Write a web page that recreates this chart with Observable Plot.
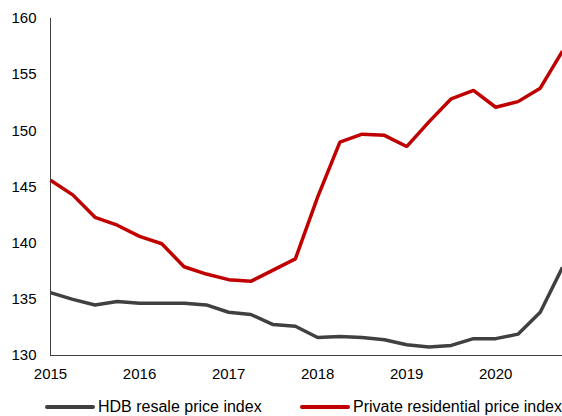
<!DOCTYPE html>
<html>
<head>
<meta charset="utf-8">
<script src="https://cdn.jsdelivr.net/npm/d3@7"></script>
<script src="https://cdn.jsdelivr.net/npm/@observablehq/plot@0.6"></script>
<style>
  body { margin: 0; background: #fff; font-family: "Liberation Sans", Arial, sans-serif; }
  #chart svg { display: block; }
  .legend { position: relative; height: 26px; width: 562px; font-size: 16px; color: #000; }
  .legend .item { position: absolute; top: 8px; display: flex; align-items: center; white-space: nowrap; line-height: 18px; }
  .legend .sw { display: inline-block; width: 50px; height: 4px; border-radius: 2px; margin-right: 3px; }
</style>
</head>
<body>
<div id="chart"></div>
<div class="legend" id="legend"></div>
<script>
// Quarterly observations, 2015Q1 .. 2020Q4
const years = ["2015", "2016", "2017", "2018", "2019", "2020"];
const quarterIndex = d3.range(24);
const hdbResale = [135.6, 135.0, 134.5, 134.8, 134.65, 134.65, 134.65, 134.5, 133.85, 133.65, 132.75, 132.6,
                   131.6, 131.7, 131.6, 131.4, 130.95, 130.75, 130.9, 131.5, 131.5, 131.9, 133.85, 137.85];
const privateResidential = [145.6, 144.3, 142.3, 141.6, 140.6, 139.95, 137.9, 137.25, 136.75, 136.6, 137.6, 138.6,
                            144.1, 149.0, 149.7, 149.6, 148.6, 150.8, 152.85, 153.6, 152.1, 152.6, 153.8, 157.1];
const seriesNames = ["HDB resale price index", "Private residential price index"];
const seriesColors = ["#404040", "#C00000"];
const yTicks = [130, 135, 140, 145, 150, 155, 160];

const rows = [];
quarterIndex.forEach(i => {
  rows.push({q: i, value: hdbResale[i], series: seriesNames[0]});
  rows.push({q: i, value: privateResidential[i], series: seriesNames[1]});
});

const chart = Plot.plot({
  width: 562,
  height: 390,
  marginTop: 18,
  marginBottom: 35,
  marginLeft: 50,
  marginRight: 0,
  style: {fontFamily: "'Liberation Sans', Arial, sans-serif", fontSize: "15px", color: "#000", background: "#fff"},
  x: {domain: [0, 23], ticks: years.map((y, k) => k * 4), tickFormat: d => years[Math.round(d / 4)], tickSize: 0, tickPadding: 13, label: null},
  y: {domain: [130, 160], ticks: yTicks, tickSize: 0, tickPadding: 14, label: null, tickFormat: d => String(d)},
  color: {domain: seriesNames, range: seriesColors},
  marks: [
    Plot.ruleX([0], {stroke: "#404040", strokeWidth: 1}),
    Plot.ruleY([130], {stroke: "#404040", strokeWidth: 1}),
    Plot.line(rows, {x: "q", y: "value", z: "series", stroke: "series", strokeWidth: 3.5, strokeLinejoin: "miter", strokeLinecap: "butt"})
  ]
});
document.getElementById("chart").appendChild(chart);

const legend = document.getElementById("legend");
const legendX = [45, 300];
seriesNames.forEach((name, k) => {
  const item = document.createElement("div");
  item.className = "item";
  item.style.left = legendX[k] + "px";
  item.innerHTML = `<span class="sw" style="background:${seriesColors[k]}"></span><span>${name}</span>`;
  legend.appendChild(item);
});
</script>
</body>
</html>
